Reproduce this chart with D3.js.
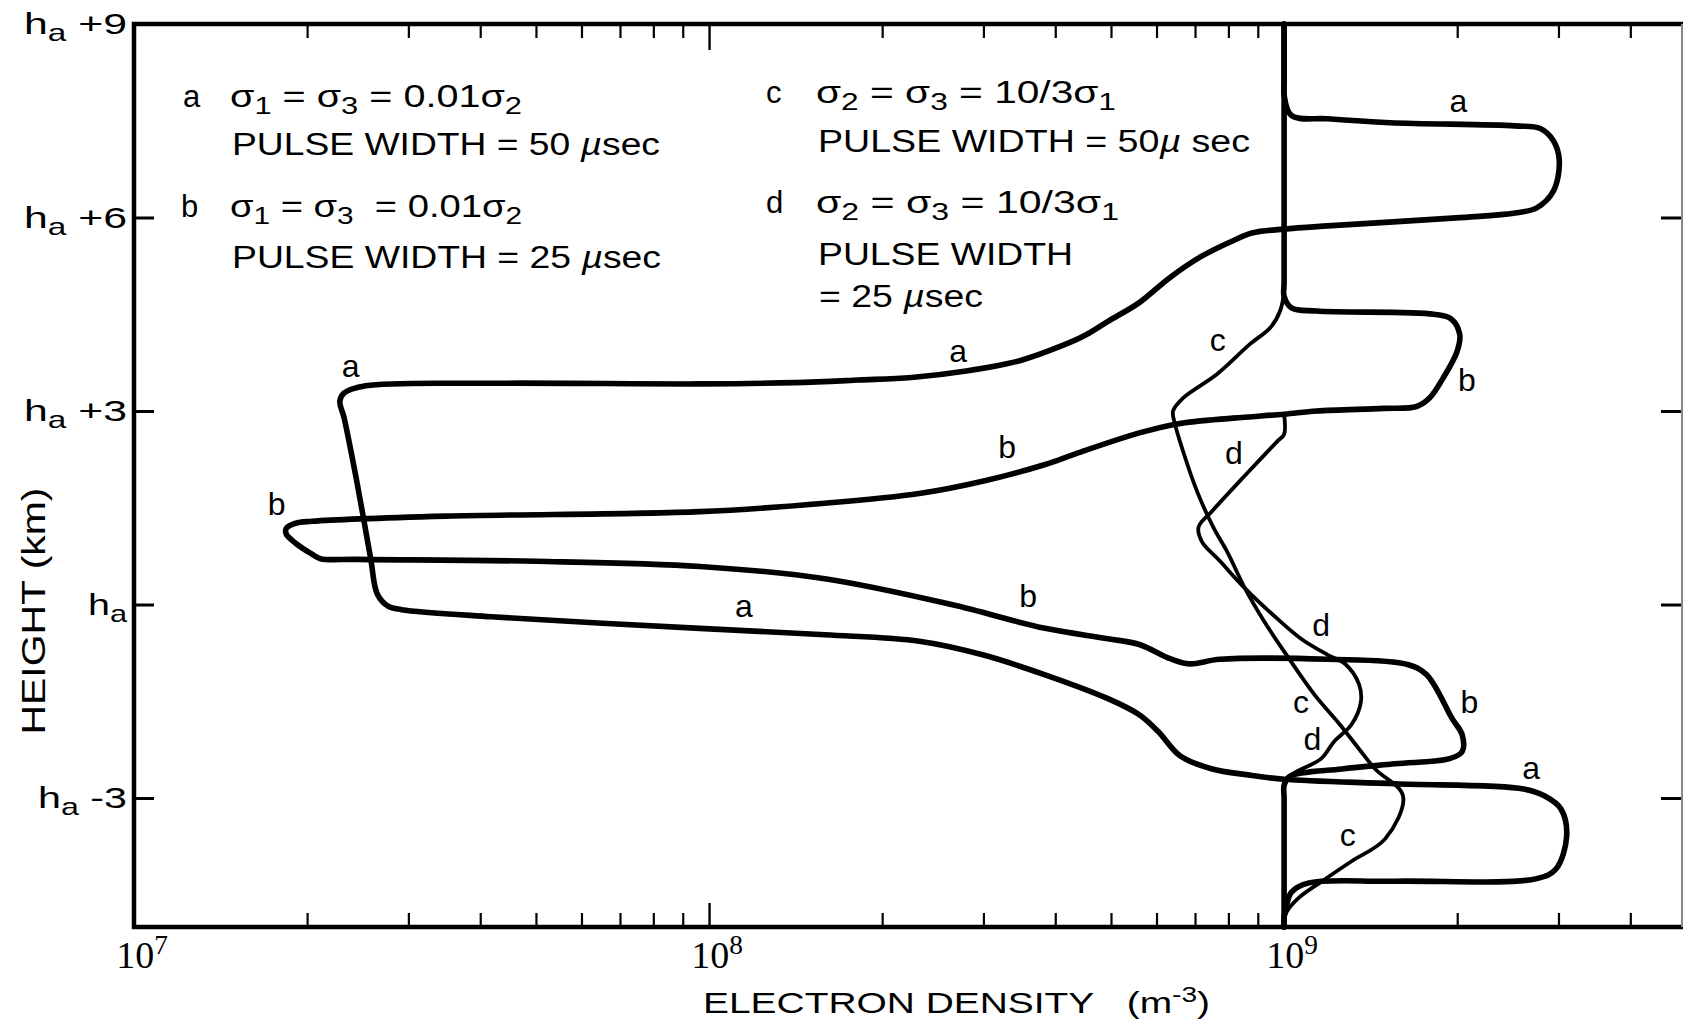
<!DOCTYPE html>
<html><head><meta charset="utf-8">
<script src="https://cdn.jsdelivr.net/npm/d3@7"></script>
<style>html,body{margin:0;padding:0;background:#fff;} svg{display:block;} text{white-space:pre;}</style>
</head><body>
<svg id="chart" width="1683" height="1022"></svg>
<script>
// ---------- DATA (electron density in m^-3, height in km relative to h_a) ----------
const curveA = [
 [1e9, 9], [1e9, 8.1], [1e9, 7.9], [1.03e9, 7.58], [1.19e9, 7.53], [1.53e9, 7.47], [2.52e9, 7.42], [2.79e9, 7.38],
 [2.94e9, 7.19], [3.01e9, 6.88], [2.94e9, 6.41], [2.75e9, 6.15], [2.52e9, 6.07], [1.96e9, 5.99],
 [1.19e9, 5.87], [1.0e9, 5.82], [8.79e8, 5.76], [8.15e8, 5.64], [7.19e8, 5.40], [6.31e8, 5.06],
 [5.6e8, 4.68], [4.94e8, 4.39], [4.5e8, 4.17], [4.13e8, 4.02], [3.47e8, 3.78], [2.8e8, 3.62],
 [2.25e8, 3.52], [1.82e8, 3.48], [1.41e8, 3.44], [9.64e7, 3.42], [4.18e7, 3.43], [2.53e7, 3.39],
 [2.32e7, 3.28], [2.28e7, 3.15], [2.32e7, 2.89], [2.44e7, 1.91], [2.58e7, 0.71], [2.65e7, 0.16],
 [2.77e7, -0.03], [2.92e7, -0.08], [4.18e7, -0.19], [9.64e7, -0.37], [1.59e8, -0.47], [2.32e8, -0.57],
 [2.99e8, -0.78], [3.84e8, -1.09], [4.94e8, -1.46], [5.6e8, -1.71], [6.04e8, -1.97], [6.6e8, -2.35],
 [7.5e8, -2.55], [8.8e8, -2.65], [1.0e9, -2.71], [1.56e9, -2.78], [2.61e9, -2.86], [2.84e9, -2.97],
 [3.03e9, -3.17], [3.10e9, -3.59], [2.97e9, -4.10], [2.75e9, -4.25], [1.56e9, -4.29], [1.10e9, -4.32],
 [1.03e9, -4.46], [1.01e9, -4.66], [1e9, -4.85], [1e9, -5]
];
const curveB = [
 [1e9, 9], [1e9, 5.0], [1e9, 4.78], [1.03e9, 4.60], [1.14e9, 4.55], [1.82e9, 4.50], [1.95e9, 4.43], [2.02e9, 4.19],
 [2.0e9, 3.93], [1.89e9, 3.51], [1.79e9, 3.20], [1.70e9, 3.07], [1.49e9, 3.04], [1.14e9, 3.00],
 [1e9, 2.95], [8.15e8, 2.89], [6.52e8, 2.80], [5.6e8, 2.66], [4.35e8, 2.34],
 [3.84e8, 2.17], [2.99e8, 1.91], [2.32e8, 1.72], [1.59e8, 1.57], [9.64e7, 1.44], [3.49e7, 1.37],
 [2.04e7, 1.29], [1.91e7, 1.26], [1.84e7, 1.18], [1.84e7, 1.09], [1.91e7, 0.95], [2.04e7, 0.78],
 [2.11e7, 0.71], [2.44e7, 0.70], [5.0e7, 0.67], [9.64e7, 0.59], [1.59e8, 0.40], [2.64e8, 0.0],
 [3.84e8, -0.37], [4.94e8, -0.53], [5.6e8, -0.62], [6.34e8, -0.84], [6.84e8, -0.92], [7.74e8, -0.85],
 [1.19e9, -0.85], [1.64e9, -0.93], [1.77e9, -1.09], [1.96e9, -1.77], [2.04e9, -2.02], [2.04e9, -2.28],
 [1.94e9, -2.39], [1.56e9, -2.47], [1.26e9, -2.55], [1.02e9, -2.67], [1e9, -2.8], [1e9, -3.0], [1e9, -5]
];
const curveC = [
 [1e9, 9], [1e9, 5.1], [1e9, 4.86], [9.84e8, 4.55], [9.46e8, 4.29], [8.73e8, 4.04], [7.64e8, 3.57], [6.67e8, 3.20],
 [6.41e8, 3.00], [6.46e8, 2.80], [6.67e8, 2.38], [7.06e8, 1.75], [7.53e8, 1.2], [7.96e8, 0.82],
 [8.55e8, 0.25], [9.23e8, -0.26], [1.02e9, -0.84], [1.13e9, -1.40], [1.25e9, -1.86], [1.35e9, -2.24],
 [1.44e9, -2.55], [1.61e9, -2.97], [1.5e9, -3.63], [1.31e9, -3.98], [1.16e9, -4.30], [1.06e9, -4.55],
 [1.01e9, -4.77], [1e9, -4.9], [1e9, -5]
];
const curveD = [
 [1e9, 2.95], [1e9, 2.64], [9.73e8, 2.53], [8.55e8, 2.0], [7.5e8, 1.45],
 [7.1e8, 1.2], [7.19e8, 0.98], [7.74e8, 0.67], [8.55e8, 0.25], [9.73e8, -0.22], [1.07e9, -0.53],
 [1.19e9, -0.78], [1.28e9, -0.93], [1.35e9, -1.24], [1.36e9, -1.51], [1.31e9, -1.86], [1.22e9, -2.13],
 [1.16e9, -2.39], [1.02e9, -2.67], [1e9, -2.85], [1e9, -3.05], [1e9, -5]
];
const seriesNames = ["a", "b", "c", "d"];
const seriesData = [curveA, curveB, curveC, curveD];
// curve labels: [name, density, height]
const curveLabels = [
 ["a", 2.01e9, 7.81], ["a", 2.38e7, 3.70], ["a", 2.71e8, 3.94], ["a", 1.15e8, -0.02], ["a", 2.69e9, -2.52],
 ["b", 2.08e9, 3.49], ["b", 3.30e8, 2.45], ["b", 1.77e7, 1.57], ["b", 3.59e8, 0.14], ["b", 2.10e9, -1.51],
 ["c", 7.67e8, 4.11], ["c", 1.07e9, -1.51], ["c", 1.29e9, -3.56],
 ["d", 8.18e8, 2.36], ["d", 1.16e9, -0.31], ["d", 1.12e9, -2.07]
];
const xMajorTicks = [1e7, 1e8, 1e9];
const xMinorTicks = [2e7,3e7,4e7,5e7,6e7,7e7,8e7,9e7, 2e8,3e8,4e8,5e8,6e8,7e8,8e8,9e8, 2e9,3e9,4e9];
const yTicks = [-3, 0, 3, 6, 9];
const yTickSuffix = ["-3", "", "+3", "+6", "+9"];
const xDomain = [1e7, 4.9e9];
const yDomain = [-5, 9];

// ---------- DRAWING ----------
const svg = d3.select("#chart");
const L = 134, R = 1681, T = 24, B = 927;
const x = d3.scaleLog().domain(xDomain).range([L, R]);
const y = d3.scaleLinear().domain(yDomain).range([B, T]);
const FONT = "'Liberation Sans', 'DejaVu Sans', sans-serif";

function rich(parent, px, py, parts, o) {
  const t = parent.append("text").attr("x", px).attr("y", py)
    .attr("font-family", o.family || FONT).attr("font-size", o.size)
    .attr("text-anchor", o.anchor || "start").attr("fill", "#000");
  parts.forEach(p => {
    const [s, k] = typeof p === "string" ? [p, "n"] : p;
    const ts = t.append("tspan").text(s);
    if (k === "sub") ts.attr("font-size", o.size * 0.78).attr("baseline-shift", -o.size * 0.22);
    if (k === "sup") ts.attr("font-size", o.size * 0.72).attr("baseline-shift", o.size * 0.38);
    if (k === "it") ts.attr("font-style", "italic");
  });
  if (o.len) t.attr("textLength", o.len).attr("lengthAdjust", "spacingAndGlyphs");
  return t;
}

// ticks
function tickAxis(axis, tx, ty, w) {
  const g = svg.append("g").attr("transform", `translate(${tx},${ty})`).call(axis);
  g.select(".domain").remove();
  g.selectAll("line").attr("stroke", "#000").attr("stroke-width", w);
  g.selectAll("text").remove();
  return g;
}
tickAxis(d3.axisBottom(x).tickValues(xMinorTicks).tickSize(-14).tickFormat(""), 0, B, 2.2);
tickAxis(d3.axisBottom(x).tickValues(xMajorTicks.slice(1)).tickSize(-24).tickFormat(""), 0, B, 2.4);
tickAxis(d3.axisTop(x).tickValues(xMinorTicks).tickSize(-14).tickFormat(""), 0, T, 2.2);
tickAxis(d3.axisTop(x).tickValues(xMajorTicks.slice(1)).tickSize(-26).tickFormat(""), 0, T, 2.4);
tickAxis(d3.axisLeft(y).tickValues(yTicks).tickSize(-20).tickFormat(""), L, 0, 3);
tickAxis(d3.axisRight(y).tickValues(yTicks.filter(v => v < 9)).tickSize(-20).tickFormat(""), R, 0, 3);

// frame
svg.append("path").attr("d", `M${R+2},${T} H${L} V${B} H${R+2}`)
  .attr("fill", "none").attr("stroke", "#000").attr("stroke-width", 4.5).attr("stroke-linejoin", "miter");
svg.append("line").attr("x1", R + 1).attr("x2", R + 1).attr("y1", T).attr("y2", B)
  .attr("stroke", "#888").attr("stroke-width", 2);

// curves
const line = d3.line().x(d => x(d[0])).y(d => y(d[1])).curve(d3.curveCatmullRom.alpha(0.5));
const widths = {a: 5.6, b: 5.6, c: 3.8, d: 3.8};
seriesData.forEach((data, i) => {
  svg.append("path").attr("d", line(data)).attr("fill", "none").attr("stroke", "#000")
    .attr("stroke-width", widths[seriesNames[i]]).attr("stroke-linejoin", "round").attr("stroke-linecap", "round");
});

// curve labels
curveLabels.forEach(([n, dv, hv]) => {
  svg.append("text").attr("x", x(dv)).attr("y", y(hv)).attr("dy", "0.36em")
    .attr("text-anchor", "middle").attr("font-family", FONT).attr("font-size", 32).text(n);
});

// y tick labels
yTicks.forEach((v, i) => {
  const parts = ["h", ["a", "sub"]];
  if (yTickSuffix[i]) parts.push(" " + yTickSuffix[i]);
  const len = yTickSuffix[i] === "" ? 39 : (yTickSuffix[i].startsWith("-") ? 89 : 103);
  rich(svg, 127, y(v) + 10, parts, {size: 30, anchor: "end", len: len});
});

// x tick labels
xMajorTicks.forEach(v => {
  const e = Math.round(Math.log10(v));
  rich(svg, x(v) + 8, 968, ["10", [String(e), "sup"]], {size: 38, anchor: "middle", family: "'Liberation Serif', serif"});
});

// axis titles
rich(svg, 703, 1013, ["ELECTRON DENSITY\u00a0\u00a0\u00a0(m", ["-3", "sup"], ")"], {size: 30, len: 507});
svg.append("g").attr("transform", "translate(45,611) rotate(-90)")
  .append("text").attr("text-anchor", "middle").attr("font-family", FONT).attr("font-size", 34)
  .attr("textLength", 247).attr("lengthAdjust", "spacingAndGlyphs").text("HEIGHT (km)");

// legend
const LS = 31;
rich(svg, 183, 107, ["a"], {size: LS});
rich(svg, 230, 107, ["σ", ["1", "sub"], " = σ", ["3", "sub"], " = 0.01σ", ["2", "sub"]], {size: LS, len: 292});
rich(svg, 232, 155, ["PULSE WIDTH = 50 ", ["µ", "it"], "sec"], {size: LS, len: 428});
rich(svg, 181, 217, ["b"], {size: LS});
rich(svg, 230, 217, ["σ", ["1", "sub"], " = σ", ["3", "sub"], "  = 0.01σ", ["2", "sub"]], {size: LS, len: 292});
rich(svg, 232, 268, ["PULSE WIDTH = 25 ", ["µ", "it"], "sec"], {size: LS, len: 429});
rich(svg, 766, 103, ["c"], {size: LS});
rich(svg, 816, 103, ["σ", ["2", "sub"], " = σ", ["3", "sub"], " = 10/3σ", ["1", "sub"]], {size: LS, len: 300});
rich(svg, 818, 152, ["PULSE WIDTH = 50", ["µ", "it"], " sec"], {size: LS, len: 432});
rich(svg, 766, 213, ["d"], {size: LS});
rich(svg, 816, 213, ["σ", ["2", "sub"], " = σ", ["3", "sub"], " = 10/3σ", ["1", "sub"]], {size: LS, len: 303});
rich(svg, 818, 265, ["PULSE WIDTH"], {size: LS, len: 255});
rich(svg, 819, 307, ["= 25 ", ["µ", "it"], "sec"], {size: LS, len: 164});
</script>
</body></html>
